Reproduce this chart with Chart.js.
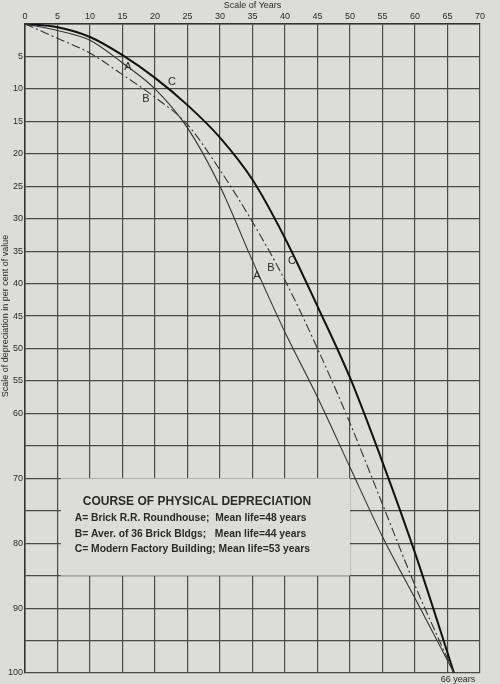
<!DOCTYPE html>
<html>
<head>
<meta charset="utf-8">
<script src="https://cdn.jsdelivr.net/npm/chart.js@4"></script>
<style>
  body { margin: 0; background: #dcdcd8; }
  #wrap { width: 500px; height: 684px; }
</style>
</head>
<body>
<div id="wrap"><canvas id="chart"></canvas></div>
<script>
// years and per cent depreciation
var years = [0, 5, 10, 15, 20, 25, 30, 35, 40, 45, 50, 55, 60, 66];
var curveA = [0, 1, 2.5, 6, 10, 16, 25, 36.5, 47.5, 57.5, 68.3, 79, 88.5, 100];
var curveB = [0, 2.2, 4.5, 7.8, 11.3, 15.5, 22.5, 30.5, 39.5, 50, 61.5, 74, 86.5, 100];
var curveC = [0, 0.5, 2, 4.8, 8.3, 12.5, 17.5, 24, 33, 43.5, 54.5, 67.5, 81.5, 100];
var legendLines = [
    "A= Brick R.R. Roundhouse;  Mean life=48 years",
    "B= Aver. of 36 Brick Bldgs;   Mean life=44 years",
    "C= Modern Factory Building; Mean life=53 years"
];

function pts(ys) {
    return years.map(function (x, i) { return { x: x, y: ys[i] }; });
}

var ink = "#2a2a2a";
var font = "'Liberation Sans', Arial, sans-serif";

var extras = {
    id: "extras",
    beforeDatasetsDraw: function (chart) {
        var c = chart.ctx, xs = chart.scales.x, ys = chart.scales.y;
        // legend box over the grid
        var l = xs.getPixelForValue(5.5), r = xs.getPixelForValue(50);
        var t = ys.getPixelForValue(70), b = ys.getPixelForValue(85);
        c.save();
        c.fillStyle = "#dcdcd8";
        c.fillRect(l, t, r - l, b - t);
        c.restore();
    },
    afterDraw: function (chart) {
        var c = chart.ctx, xs = chart.scales.x, ys = chart.scales.y;
        c.save();
        c.fillStyle = ink;
        c.textAlign = "center";
        c.font = "9px " + font;
        c.fillText("Scale of Years", xs.getPixelForValue(35), 8);
        c.fillText("66 years", xs.getPixelForValue(66) + 4, 682);
        c.save();
        c.translate(8, ys.getPixelForValue(45));
        c.rotate(-Math.PI / 2);
        c.fillText("Scale of depreciation in per cent of value", 0, 0);
        c.restore();
        // curve letters
        c.font = "11px " + font;
        c.fillText("A", 128, 70);
        c.fillText("B", 146, 102);
        c.fillText("C", 172, 85);
        c.fillText("A", 257, 279);
        c.fillText("B", 271, 271);
        c.fillText("C", 292, 264);
        // legend text
        var x0 = xs.getPixelForValue(5.5) + 14;
        c.textAlign = "left";
        c.font = "bold 12px " + font;
        c.fillText("COURSE OF PHYSICAL DEPRECIATION", x0 + 8, 505);
        c.font = "bold 10.3px " + font;
        legendLines.forEach(function (s, i) {
            c.fillText(s, x0, 521 + i * 15.5);
        });
        c.restore();
    }
};

new Chart(document.getElementById("chart"), {
    type: "line",
    data: {
        datasets: [
            { label: "A", data: pts(curveA), borderColor: "#333", borderWidth: 1.1 },
            { label: "B", data: pts(curveB), borderColor: "#333", borderWidth: 1.1, borderDash: [9, 3, 2, 3] },
            { label: "C", data: pts(curveC), borderColor: "#111", borderWidth: 2 }
        ]
    },
    options: {
        responsive: true,
        maintainAspectRatio: false,
        animation: false,
        layout: { padding: { left: 0, right: 20, top: 0, bottom: 11 } },
        elements: { point: { radius: 0 }, line: { cubicInterpolationMode: "monotone" } },
        plugins: { legend: { display: false }, tooltip: { enabled: false } },
        scales: {
            x: {
                type: "linear", position: "top", min: 0, max: 70,
                afterFit: function (s) { s.height = 24; },
                grid: { color: "#4a4a4a", lineWidth: 1.2, drawTicks: false },
                border: { color: "#333", width: 1.5 },
                ticks: { stepSize: 5, padding: 2, maxRotation: 0, color: ink, font: { size: 9, family: font } }
            },
            y: {
                type: "linear", reverse: true, min: 0, max: 100,
                afterFit: function (s) { s.width = 25; },
                grid: { color: "#4a4a4a", lineWidth: 1.2, drawTicks: false },
                border: { color: "#333", width: 1.5 },
                ticks: {
                    stepSize: 5, padding: 2, color: ink, font: { size: 9, family: font },
                    callback: function (v) {
                        if (v === 0) return "";
                        if (v > 60 && v % 10 !== 0) return "";
                        return v;
                    }
                }
            }
        }
    },
    plugins: [extras]
});
</script>
</body>
</html>
